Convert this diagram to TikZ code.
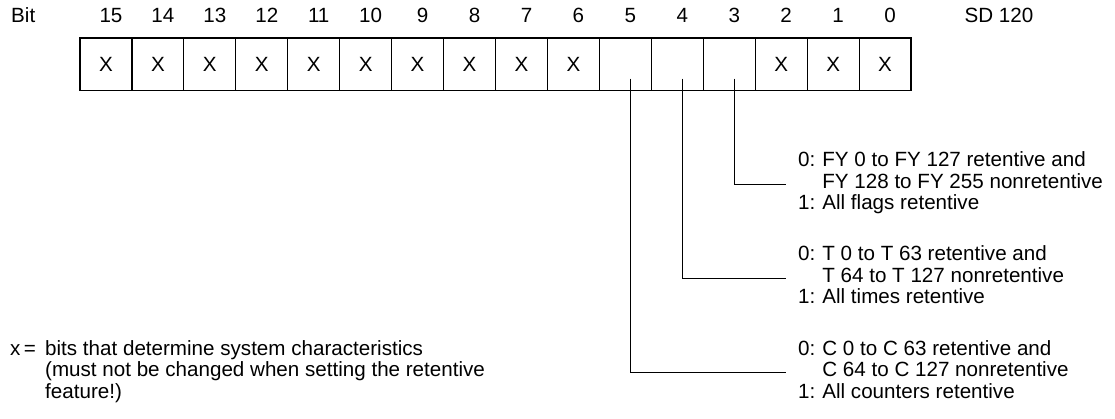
\documentclass[tikz,border=0pt]{standalone}
\usepackage{fontspec}
\setmainfont{Liberation Sans}
\usetikzlibrary{calc}
\begin{document}
\begin{tikzpicture}[x=1pt,y=-1pt,
  font=\fontsize{20.6}{21.5}\selectfont,
  cell/.style={draw, line width=1.2pt, minimum width=51.94pt, minimum height=52.5pt, inner sep=0pt, anchor=center},
  lbl/.style={anchor=base, inner sep=0pt},
  blk/.style={anchor=base west, inner sep=0pt},
  conn/.style={line width=1.2pt}]
\fill[white] (0,0) rectangle (1115,419);
\useasboundingbox (0,0) rectangle (1115,419);
\node[blk] (bit) at (11,23) {Bit};
\foreach \b/\t in {15/X,14/X,13/X,12/X,11/X,10/X,9/X,8/X,7/X,6/X,5/{},4/{},3/{},2/X,1/X,0/X}{
  \node[cell] (c\b) at ({80+(15-\b+0.5)*51.94},64.25) {\t};
  \node[lbl] (n\b) at ({80+(15-\b+0.5)*51.94+5},23) {\b};
}
\node[lbl] (sd) at (999,23) {SD 120};
\node[blk] (bFY) at (798,167) {\begin{tabular}[t]{@{}l@{\hspace{7pt}}l@{}}0: & FY 0 to FY 127 retentive and\\ & FY 128 to FY 255 nonretentive\\ 1: & All flags retentive\end{tabular}};
\node[blk] (bT) at (798,261) {\begin{tabular}[t]{@{}l@{\hspace{7pt}}l@{}}0: & T 0 to T 63 retentive and\\ & T 64 to T 127 nonretentive\\ 1: & All times retentive\end{tabular}};
\node[blk] (bC) at (798,355) {\begin{tabular}[t]{@{}l@{\hspace{7pt}}l@{}}0: & C 0 to C 63 retentive and\\ & C 64 to C 127 nonretentive\\ 1: & All counters retentive\end{tabular}};
\draw[conn] ($(c3.south)+(5,-12.5)$) |- ([xshift=-12pt]bFY.west);
\draw[conn] ($(c4.south)+(5,-12.5)$) |- ([xshift=-12pt]bT.west);
\draw[conn] ($(c5.south)+(5,-12.5)$) |- ([xshift=-12pt]bC.west);
\node[blk] (xeq) at (10,355) {x\,=};
\node[blk] (fn) at (45,355) {\begin{tabular}[t]{@{}l@{}}bits that determine system characteristics\\(must not be changed when setting the retentive\\feature!)\end{tabular}};
\end{tikzpicture}
\end{document}
